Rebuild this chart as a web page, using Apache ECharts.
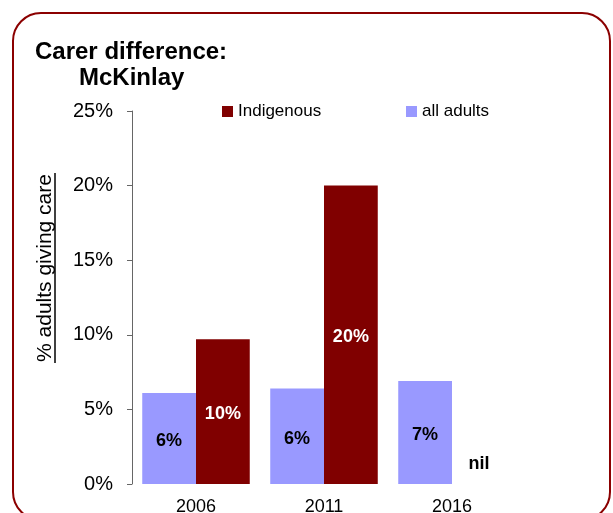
<!DOCTYPE html>
<html>
<head>
<meta charset="utf-8">
<script src="https://cdn.jsdelivr.net/npm/echarts@6/dist/echarts.min.js"></script>
<style>
  html, body { margin: 0; padding: 0; background: #fff; }
  #chart { width: 613px; height: 513px; }
</style>
</head>
<body>
<div id="chart"></div>
<script>
// Share of adults providing unpaid care, McKinlay
const years = ['2006', '2011', '2016'];
const allAdults = [6.1, 6.4, 6.9];
const indigenous = [9.7, 20.0, 0];
const yTicks = [0, 5, 10, 15, 20, 25];

const FONT = '"Liberation Sans", Arial, Helvetica, sans-serif';
const DARK_RED = '#800000';
const LAVENDER = '#9999FF';

function pctLabel(v) {
  return v === 0 ? 'nil' : Math.round(v) + '%';
}

const chart = echarts.init(document.getElementById('chart'), null, { renderer: 'canvas' });

chart.setOption({
  backgroundColor: '#fff',
  animation: false,
  textStyle: { fontFamily: FONT },
  title: [
    {
      text: 'Carer difference:',
      left: 35, top: 40, padding: 0,
      textStyle: { fontFamily: FONT, fontSize: 24, fontWeight: 'bold', color: '#000' }
    },
    {
      text: 'McKinlay',
      left: 79, top: 66, padding: 0,
      textStyle: { fontFamily: FONT, fontSize: 24, fontWeight: 'bold', color: '#000' }
    }
  ],
  legend: [
    {
      data: ['Indigenous'],
      left: 217, top: 98,
      icon: 'rect', itemWidth: 11, itemHeight: 11,
      textStyle: { fontFamily: FONT, fontSize: 17, color: '#000' }
    },
    {
      data: ['all adults'],
      left: 401, top: 98,
      icon: 'rect', itemWidth: 11, itemHeight: 11,
      textStyle: { fontFamily: FONT, fontSize: 17, color: '#000' }
    }
  ],
  grid: {
    left: 132, right: 97, top: 111, bottom: 29,
    containLabel: false,
    outerBoundsMode: 'none'
  },
  xAxis: {
    type: 'category',
    data: years,
    axisLine: { show: false },
    axisTick: { show: false },
    axisLabel: { fontFamily: FONT, fontSize: 18, color: '#000', margin: 14 }
  },
  yAxis: {
    type: 'value',
    min: yTicks[0],
    max: yTicks[yTicks.length - 1],
    interval: yTicks[1] - yTicks[0],
    axisLine: { show: true, lineStyle: { color: '#666', width: 1 } },
    axisTick: { show: true, inside: false, length: 5, lineStyle: { color: '#666' } },
    splitLine: { show: false },
    axisLabel: {
      fontFamily: FONT, fontSize: 20, color: '#000', margin: 19,
      formatter: v => v + '%'
    }
  },
  series: [
    {
      name: 'all adults',
      type: 'bar',
      barGap: '0%',
      barCategoryGap: '16%',
      itemStyle: { color: LAVENDER },
      label: {
        show: true, position: 'inside',
        fontFamily: FONT, fontSize: 18, fontWeight: 'bold', color: '#000',
        offset: [0, 3],
        formatter: p => pctLabel(p.value)
      },
      data: allAdults
    },
    {
      name: 'Indigenous',
      type: 'bar',
      barGap: '0%',
      barCategoryGap: '16%',
      itemStyle: { color: DARK_RED },
      label: {
        show: true, position: 'inside',
        fontFamily: FONT, fontSize: 18, fontWeight: 'bold', color: '#fff',
        offset: [0, 2],
        formatter: p => pctLabel(p.value)
      },
      data: indigenous.map(v => v === 0
        ? { value: v, label: { position: 'top', color: '#000', offset: [0, -6] } }
        : v)
    }
  ],
  graphic: [
    {
      type: 'rect',
      shape: { x: 13, y: 13, width: 597, height: 507, r: 28 },
      style: { fill: 'none', stroke: '#8B0000', lineWidth: 2 },
      silent: true, z: -1
    },
    {
      // rotated y-axis title
      type: 'text',
      x: 45, y: 268,
      rotation: Math.PI / 2,
      style: {
        text: '% adults giving care',
        font: '21px ' + FONT,
        fill: '#000',
        align: 'center',
        verticalAlign: 'middle'
      },
      silent: true
    },
    {
      // underline beneath the rotated axis title
      type: 'line',
      shape: { x1: 55, y1: 173, x2: 55, y2: 363 },
      style: { stroke: '#000', lineWidth: 1.5 },
      silent: true
    }
  ]
});
</script>
</body>
</html>
